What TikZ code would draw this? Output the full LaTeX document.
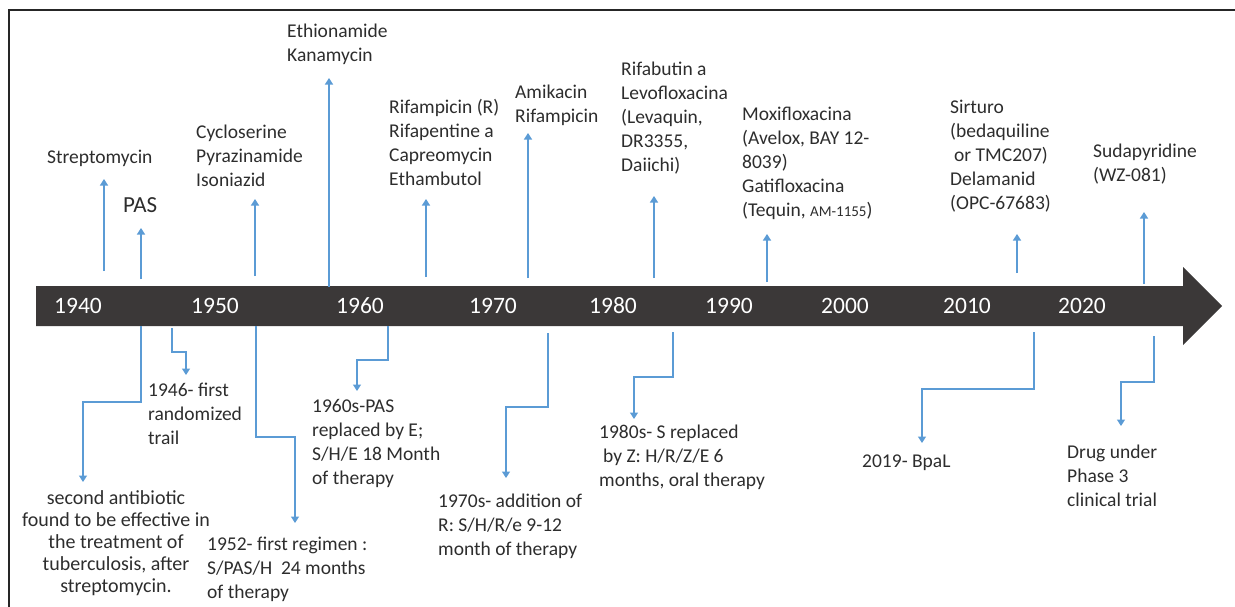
\documentclass[tikz,border=0pt]{standalone}
\usepackage{fontspec}
\setmainfont{Carlito}
\usetikzlibrary{arrows.meta}
\definecolor{bar}{RGB}{59,56,56}
\definecolor{txt}{RGB}{45,45,45}
\definecolor{lblue}{RGB}{91,155,213}
\tikzset{
  conn/.style={draw=lblue, line width=1.4pt, -{Triangle[width=8pt,length=6.5pt]}},
  lab/.style={anchor=north west, inner sep=0pt, align=left, text=txt, font=\fontsize{19.5}{24}\selectfont},
  year/.style={inner sep=0pt, text=white, font=\fontsize{23.5}{26}\selectfont},
}
\begin{document}
\begin{tikzpicture}[x=1pt,y=-1pt]
\useasboundingbox (0,0) rectangle (1235,606);
% frame
\draw[line width=1.5pt, black!85] (9,640) -- (9,10) -- (1260,10);
% timeline bar
\fill[bar] (36,286) -- (1183,286) -- (1183,267) -- (1222,306) -- (1183,345) -- (1183,326) -- (36,326) -- cycle;
\node[year] (y1940) at (78,306) {1940};
\node[year] (y1950) at (215,306) {1950};
\node[year] (y1960) at (360,306) {1960};
\node[year] (y1970) at (493,306) {1970};
\node[year] (y1980) at (613,306) {1980};
\node[year] (y1990) at (729,306) {1990};
\node[year] (y2000) at (845,306) {2000};
\node[year] (y2010) at (967,306) {2010};
\node[year] (y2020) at (1082,306) {2020};

% upper labels
\node[lab] (strep) at (47,150) {Streptomycin};
\node[lab, font=\fontsize{23}{26}\selectfont] (pas) at (123,197) {PAS};
\node[lab] (cyclo) at (196,125) {Cycloserine\\Pyrazinamide\\Isoniazid};
\node[lab] (ethio) at (287,24) {Ethionamide\\Kanamycin};
\node[lab] (rifam) at (389,99) {Rifampicin (R)\\Rifapentine a\\Capreomycin\\Ethambutol};
\node[lab] (amik) at (515,85) {Amikacin\\Rifampicin};
\node[lab] (rifab) at (621,62) {Rifabutin a\\Levofloxacina\\(Levaquin,\\DR3355,\\Daiichi)};
\node[lab] (moxi) at (742,107) {Moxifloxacina\\(Avelox, BAY 12-\\8039)\\Gatifloxacina\\(Tequin, {\fontsize{15}{24}\selectfont AM-1155})};
\node[lab] (sirt) at (950,100) {Sirturo\\(bedaquiline\\\hspace*{4pt}or TMC207)\\Delamanid\\(OPC-67683)};
\node[lab] (suda) at (1093,144) {Sudapyridine\\(WZ-081)};

% upper arrows
\coordinate (u1s) at (104,271); \coordinate (u1e) at (104,179);
\coordinate (u2s) at (141,279); \coordinate (u2e) at (141,228);
\coordinate (u3s) at (255,276); \coordinate (u3e) at (255,199);
\coordinate (u4s) at (329,287); \coordinate (u4e) at (329,78);
\coordinate (u5s) at (426,277); \coordinate (u5e) at (426,199);
\coordinate (u6s) at (528,278); \coordinate (u6e) at (528,133);
\coordinate (u7s) at (654,278); \coordinate (u7e) at (654,196);
\coordinate (u8s) at (767,282); \coordinate (u8e) at (767,234);
\coordinate (u9s) at (1017,273); \coordinate (u9e) at (1017,234);
\coordinate (u10s) at (1144,284); \coordinate (u10e) at (1144,212);
\foreach \i in {1,...,10} { \draw[conn] (u\i s) -- (u\i e); }

% lower labels
\node[inner sep=0pt, anchor=north, align=center, text=txt, font=\fontsize{20}{22}\selectfont] (anti) at (116,490)
  {second antibiotic\\found to be effective in\\the treatment of\\tuberculosis, after\\streptomycin.};
\node[lab] (d1946) at (148,383) {1946- first\\randomized\\trail};
\node[lab] (d1952) at (207,537) {1952- first regimen :\\S/PAS/H\ \ 24 months\\of therapy};
\node[lab] (d1960) at (312,399) {1960s-PAS\\replaced by E;\\S/H/E 18 Month\\of therapy};
\node[lab] (d1970) at (438,494) {1970s- addition of\\R: S/H/R/e 9-12\\month of therapy};
\node[lab] (d1980) at (599,425) {1980s- S replaced\\\hspace*{4pt}by Z: H/R/Z/E 6\\months, oral therapy};
\node[lab] (d2019) at (862,455) {2019- BpaL};
\node[lab] (drug) at (1067,445) {Drug under\\Phase 3\\clinical trial};

% lower elbow arrows
\coordinate (l1s) at (141,326); \coordinate (l1e) at (83,482);
\coordinate (l2s) at (172,328); \coordinate (l2e) at (186,375);
\coordinate (l3s) at (256,326); \coordinate (l3e) at (295,523);
\coordinate (l4s) at (388,326); \coordinate (l4e) at (357,391);
\coordinate (l5s) at (548,333); \coordinate (l5e) at (506,478);
\coordinate (l6s) at (673,332); \coordinate (l6e) at (634,419);
\coordinate (l7s) at (1034,332); \coordinate (l7e) at (922,443);
\coordinate (l8s) at (1154,336); \coordinate (l8e) at (1121,426);
\draw[conn] (l1s) -- ++(0,76) -| (l1e);
\draw[conn] (l2s) -- ++(0,24) -| (l2e);
\draw[conn] (l3s) -- ++(0,111) -| (l3e);
\draw[conn] (l4s) -- ++(0,34) -| (l4e);
\draw[conn] (l5s) -- ++(0,74) -| (l5e);
\draw[conn] (l6s) -- ++(0,45) -| (l6e);
\draw[conn] (l7s) -- ++(0,57) -| (l7e);
\draw[conn] (l8s) -- ++(0,46) -| (l8e);
\end{tikzpicture}
\end{document}
